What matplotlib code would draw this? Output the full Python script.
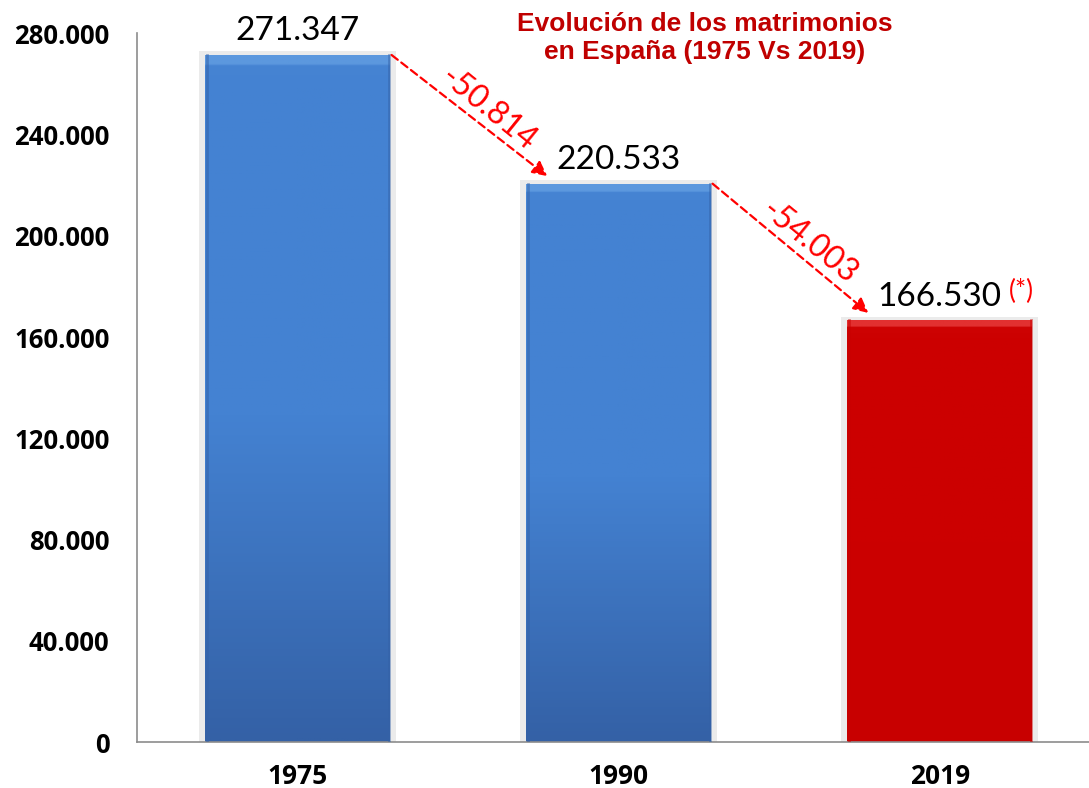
import numpy as np
import matplotlib
matplotlib.use('Agg')
import matplotlib.pyplot as plt
from matplotlib.colors import LinearSegmentedColormap

years = ['1975', '1990', '2019']
marriages = [271347, 220533, 166530]
bar_tops = ['#5C98DE', '#5C98DE', '#E23030']
bar_mids = ['#4482D2', '#4482D2', '#CC0000']
bar_bottoms = ['#3461A6', '#3461A6', '#C80000']
y_ticks = [0, 40000, 80000, 120000, 160000, 200000, 240000, 280000]
title = 'Evolución de los matrimonios\nen España (1975 Vs 2019)'
note = '(*)'


def fmt_es(v):
    # miles con punto, como en el original
    s = f'{abs(v):,}'.replace(',', '.')
    return ('-' if v < 0 else '') + s


fig = plt.figure(figsize=(10.89, 7.88), dpi=100)
ax = fig.add_axes([0.126, 0.058, 0.874, 0.9])

x = np.arange(len(years))
w = 0.575

# sombra clara alrededor de cada barra
ax.bar(x, np.array(marriages) + 1500, width=w + 0.04, color='#d8d8d8',
       alpha=0.5, zorder=1)
bars = ax.bar(x, marriages, width=w, color='none', zorder=2)

for b, c0, c1, c2 in zip(bars, bar_tops, bar_mids, bar_bottoms):
    cmap = LinearSegmentedColormap.from_list('g', [c2, c1, c1, c0], N=256)
    grad = np.linspace(0, 1, 256).reshape(-1, 1)
    grad = np.where(grad > 0.988, 1.0, grad * 0.7)
    bx, bw, bh = b.get_x(), b.get_width(), b.get_height()
    im = ax.imshow(grad, cmap=cmap, aspect='auto', origin='lower',
                   extent=[bx, bx + bw, 0, bh], zorder=2)
    im.set_clip_path(b)
    # bordes laterales algo más oscuros
    ax.plot([bx + 0.004, bx + 0.004], [0, bh], color=c2, lw=2, alpha=0.5, zorder=3)
    ax.plot([bx + bw - 0.004, bx + bw - 0.004], [0, bh], color=c2, lw=2, alpha=0.5, zorder=3)

ax.set_xlim(-0.5, 2.465)
ax.set_ylim(0, 280000)

# etiquetas de valor
labels = []
for xi, v in zip(x, marriages):
    t = ax.text(xi, v + 3500, fmt_es(v), ha='center', va='bottom',
                fontsize=24, family='Lato', color='black', zorder=5)
    labels.append(t)

ax.annotate(note, xy=(1, 0.5), xycoords=labels[-1], xytext=(5, 4),
            textcoords='offset points', ha='left', va='center',
            fontsize=19, family='Lato', color='#FF0000')

# flechas de diferencia
for i in range(len(marriages) - 1):
    x0, y0 = x[i] + w / 2 + 0.005, marriages[i]
    x1, y1 = x[i + 1] - w / 2 + 0.065, marriages[i + 1] + 3000
    ax.annotate('', xy=(x1, y1), xytext=(x0, y0),
                arrowprops=dict(arrowstyle='-|>', color='#FF0000', lw=1.6,
                                linestyle=(0, (3.5, 2)), mutation_scale=22,
                                shrinkA=0, shrinkB=0), zorder=6)
    diff = marriages[i + 1] - marriages[i]
    ax.text((x0 + x1) / 2 + 0.06, (y0 + y1) / 2 + 2500, fmt_es(diff),
            rotation=-39, rotation_mode='anchor', ha='center', va='center',
            fontsize=23, family='Lato', color='#FF0000', zorder=6)

ax.set_yticks(y_ticks)
ax.set_yticklabels([fmt_es(v) for v in y_ticks], fontsize=18.5,
                   fontweight='bold', family='Open Sans')
ax.set_xticks(x)
ax.set_xticklabels(years, fontsize=19, fontweight='bold', family='Open Sans')
ax.tick_params(axis='both', length=0)
ax.tick_params(axis='y', pad=20)
ax.tick_params(axis='x', pad=15)

for s in ['top', 'right']:
    ax.spines[s].set_visible(False)
for s in ['left', 'bottom']:
    ax.spines[s].set_color('#8c8c8c')
    ax.spines[s].set_linewidth(1.2)

fig.text(0.647, 0.952, title, ha='center', va='center', fontsize=19,
         fontweight='bold', family='Liberation Sans', color='#C00000',
         linespacing=1.2)

fig.savefig('out.png', dpi=100)
